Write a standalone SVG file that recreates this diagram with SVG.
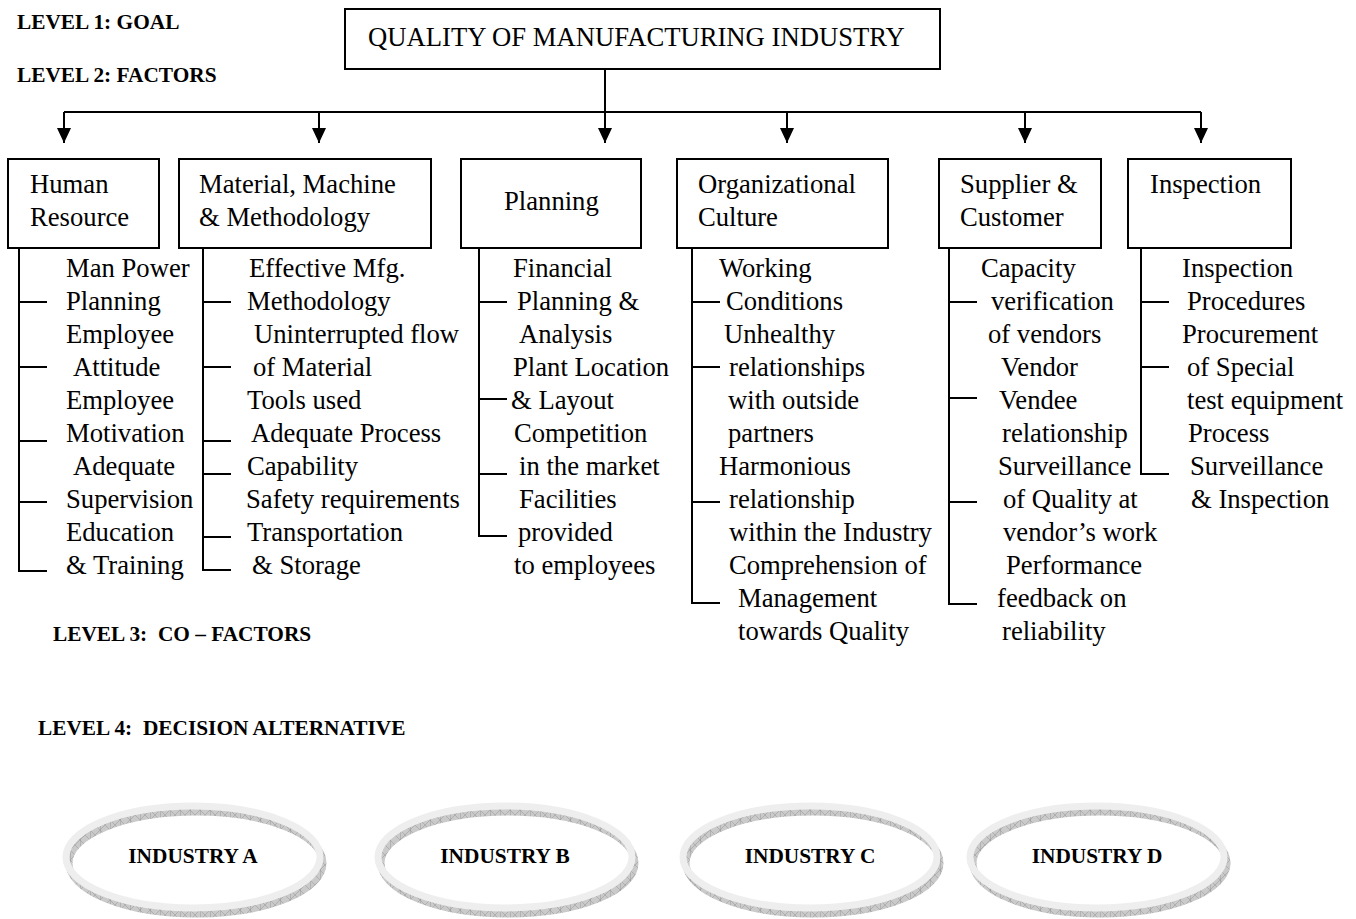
<svg xmlns="http://www.w3.org/2000/svg" width="1356" height="919" viewBox="0 0 1356 919">
  <style>
    .box { fill: #ffffff; stroke: #000000; stroke-width: 2; }
    .lbl { font-family: "Liberation Serif", "Times New Roman", serif; font-size: 26.67px; fill: #000000; }
    .lvl { font-family: "Liberation Serif", "Times New Roman", serif; font-size: 21.33px; font-weight: bold; fill: #000000; }
    .alt { font-family: "Liberation Serif", "Times New Roman", serif; font-size: 21.33px; font-weight: bold; fill: #000000; text-anchor: middle; }
    .wire { fill: none; stroke: #000000; stroke-width: 2; }
    .ring-top { fill: none; stroke: #eeeeee; stroke-width: 7; }
    .ring-side { fill: none; stroke: url(#hatch); stroke-width: 7; }
  </style>
  <defs>
    <marker id="arrow" viewBox="0 0 14 15" refX="7" refY="15" markerWidth="14" markerHeight="15" markerUnits="userSpaceOnUse" orient="0">
      <path d="M0,0 L14,0 L7,15 z" fill="#000000"/>
    </marker>
    <pattern id="hatch" patternUnits="userSpaceOnUse" width="10" height="10">
      <rect width="10" height="10" fill="#cacaca"/>
      <path d="M0,0 L10,10 M10,0 L0,10" stroke="#a4a4a4" stroke-width="0.7"/>
      <path d="M0,0 V10" stroke="#8e8e8e" stroke-width="0.8"/>
    </pattern>
  </defs>

  <rect width="1356" height="919" fill="#ffffff"/>

  <!-- level captions -->
  <g id="levels">
    <text class="lvl" x="17" y="29">LEVEL 1: GOAL</text>
    <text class="lvl" x="17" y="82">LEVEL 2: FACTORS</text>
    <text class="lvl" x="53" y="641" xml:space="preserve">LEVEL 3:  CO – FACTORS</text>
    <text class="lvl" x="38" y="735" xml:space="preserve">LEVEL 4:  DECISION ALTERNATIVE</text>
  </g>

  <!-- goal -->
  <g id="goal">
    <rect class="box" x="345" y="9" width="595" height="60"/>
    <text class="lbl" x="368" y="46">QUALITY OF MANUFACTURING INDUSTRY</text>
  </g>

  <!-- factor-to-goal connectors and co-factor brackets -->
  <g id="connectors">
    <path class="wire" d="M605,69 V143"/>
    <path class="wire" d="M64,112 H1201"/>
    <path class="wire" d="M64,112 V143" marker-end="url(#arrow)"/>
    <path class="wire" d="M319,112 V143" marker-end="url(#arrow)"/>
    <path class="wire" d="M605,112 V143" marker-end="url(#arrow)"/>
    <path class="wire" d="M787,112 V143" marker-end="url(#arrow)"/>
    <path class="wire" d="M1025,112 V143" marker-end="url(#arrow)"/>
    <path class="wire" d="M1201,112 V143" marker-end="url(#arrow)"/>

    <path class="wire" d="M19,248 V571 H47 M19,302 H47 M19,367 H47 M19,441 H47 M19,502 H47"/>
    <path class="wire" d="M203,248 V570 H231 M203,302 H231 M203,367 H231 M203,441 H231 M203,474 H231 M203,537 H231"/>
    <path class="wire" d="M479,248 V536 H507 M479,302 H507 M479,399 H507 M479,474 H507"/>
    <path class="wire" d="M692,248 V603 H720 M692,302 H720 M692,367 H720 M692,502 H720"/>
    <path class="wire" d="M949,248 V604 H977 M949,302 H977 M949,398 H977 M949,502 H977"/>
    <path class="wire" d="M1141,248 V474 H1169 M1141,302 H1169 M1141,367 H1169"/>
  </g>

  <!-- factors -->
  <g id="human-resource">
    <rect class="box" x="8" y="159" width="151" height="89"/>
    <text class="lbl" x="30" y="193">Human</text>
    <text class="lbl" x="30" y="226">Resource</text>
  </g>
  <g id="material-machine">
    <rect class="box" x="179" y="159" width="252" height="89"/>
    <text class="lbl" x="199" y="193">Material, Machine</text>
    <text class="lbl" x="199" y="226">&amp; Methodology</text>
  </g>
  <g id="planning">
    <rect class="box" x="461" y="159" width="180" height="89"/>
    <text class="lbl" x="504" y="210">Planning</text>
  </g>
  <g id="organizational-culture">
    <rect class="box" x="677" y="159" width="211" height="89"/>
    <text class="lbl" x="698" y="193">Organizational</text>
    <text class="lbl" x="698" y="226">Culture</text>
  </g>
  <g id="supplier-customer">
    <rect class="box" x="939" y="159" width="162" height="89"/>
    <text class="lbl" x="960" y="193">Supplier &amp;</text>
    <text class="lbl" x="960" y="226">Customer</text>
  </g>
  <g id="inspection">
    <rect class="box" x="1128" y="159" width="163" height="89"/>
    <text class="lbl" x="1150" y="193">Inspection</text>
  </g>

  <!-- co-factors -->
  <g id="cofactors-human">
    <text class="lbl" x="66" y="277">Man Power</text>
    <text class="lbl" x="66" y="310">Planning</text>
    <text class="lbl" x="66" y="343">Employee</text>
    <text class="lbl" x="73" y="376">Attitude</text>
    <text class="lbl" x="66" y="409">Employee</text>
    <text class="lbl" x="66" y="442">Motivation</text>
    <text class="lbl" x="73" y="475">Adequate</text>
    <text class="lbl" x="66" y="508">Supervision</text>
    <text class="lbl" x="66" y="541">Education</text>
    <text class="lbl" x="66" y="574">&amp; Training</text>
  </g>
  <g id="cofactors-material">
    <text class="lbl" x="249" y="277">Effective Mfg.</text>
    <text class="lbl" x="247" y="310">Methodology</text>
    <text class="lbl" x="254" y="343">Uninterrupted flow</text>
    <text class="lbl" x="253" y="376">of Material</text>
    <text class="lbl" x="247" y="409">Tools used</text>
    <text class="lbl" x="251" y="442">Adequate Process</text>
    <text class="lbl" x="247" y="475">Capability</text>
    <text class="lbl" x="246" y="508">Safety requirements</text>
    <text class="lbl" x="247" y="541">Transportation</text>
    <text class="lbl" x="252" y="574">&amp; Storage</text>
  </g>
  <g id="cofactors-planning">
    <text class="lbl" x="513" y="277">Financial</text>
    <text class="lbl" x="517" y="310">Planning &amp;</text>
    <text class="lbl" x="519" y="343">Analysis</text>
    <text class="lbl" x="513" y="376">Plant Location</text>
    <text class="lbl" x="511" y="409">&amp; Layout</text>
    <text class="lbl" x="514" y="442">Competition</text>
    <text class="lbl" x="519" y="475">in the market</text>
    <text class="lbl" x="519" y="508">Facilities</text>
    <text class="lbl" x="518" y="541">provided</text>
    <text class="lbl" x="514" y="574">to employees</text>
  </g>
  <g id="cofactors-culture">
    <text class="lbl" x="719" y="277">Working</text>
    <text class="lbl" x="726" y="310">Conditions</text>
    <text class="lbl" x="724" y="343">Unhealthy</text>
    <text class="lbl" x="729" y="376">relationships</text>
    <text class="lbl" x="728" y="409">with outside</text>
    <text class="lbl" x="728" y="442">partners</text>
    <text class="lbl" x="719" y="475">Harmonious</text>
    <text class="lbl" x="729" y="508">relationship</text>
    <text class="lbl" x="729" y="541">within the Industry</text>
    <text class="lbl" x="729" y="574">Comprehension of</text>
    <text class="lbl" x="738" y="607">Management</text>
    <text class="lbl" x="738" y="640">towards Quality</text>
  </g>
  <g id="cofactors-supplier">
    <text class="lbl" x="981" y="277">Capacity</text>
    <text class="lbl" x="991" y="310">verification</text>
    <text class="lbl" x="988" y="343">of vendors</text>
    <text class="lbl" x="1001" y="376">Vendor</text>
    <text class="lbl" x="999" y="409">Vendee</text>
    <text class="lbl" x="1002" y="442">relationship</text>
    <text class="lbl" x="998" y="475">Surveillance</text>
    <text class="lbl" x="1003" y="508">of Quality at</text>
    <text class="lbl" x="1003" y="541">vendor’s work</text>
    <text class="lbl" x="1006" y="574">Performance</text>
    <text class="lbl" x="997" y="607">feedback on</text>
    <text class="lbl" x="1002" y="640">reliability</text>
  </g>
  <g id="cofactors-inspection">
    <text class="lbl" x="1182" y="277">Inspection</text>
    <text class="lbl" x="1187" y="310">Procedures</text>
    <text class="lbl" x="1182" y="343">Procurement</text>
    <text class="lbl" x="1187" y="376">of Special</text>
    <text class="lbl" x="1187" y="409">test equipment</text>
    <text class="lbl" x="1188" y="442">Process</text>
    <text class="lbl" x="1190" y="475">Surveillance</text>
    <text class="lbl" x="1191" y="508">&amp; Inspection</text>
  </g>

  <!-- decision alternatives: rings with a shaded side face -->
  <g id="industry-a">
    <ellipse class="ring-side" cx="196" cy="863" rx="127" ry="51"/>
    <ellipse class="ring-top" cx="193" cy="857" rx="127" ry="51"/>
    <text class="alt" x="193" y="863">INDUSTRY A</text>
  </g>
  <g id="industry-b">
    <ellipse class="ring-side" cx="508" cy="863" rx="127" ry="51"/>
    <ellipse class="ring-top" cx="505" cy="857" rx="127" ry="51"/>
    <text class="alt" x="505" y="863">INDUSTRY B</text>
  </g>
  <g id="industry-c">
    <ellipse class="ring-side" cx="813" cy="863" rx="127" ry="51"/>
    <ellipse class="ring-top" cx="810" cy="857" rx="127" ry="51"/>
    <text class="alt" x="810" y="863">INDUSTRY C</text>
  </g>
  <g id="industry-d">
    <ellipse class="ring-side" cx="1100" cy="863" rx="127" ry="51"/>
    <ellipse class="ring-top" cx="1097" cy="857" rx="127" ry="51"/>
    <text class="alt" x="1097" y="863">INDUSTRY D</text>
  </g>
</svg>
